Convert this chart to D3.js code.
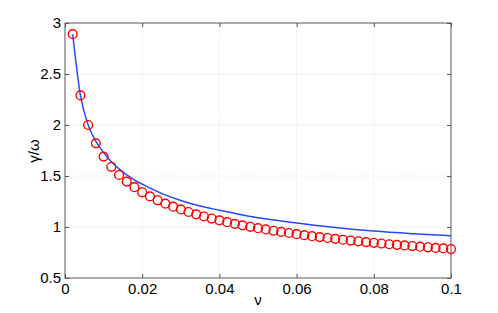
<!DOCTYPE html>
<html>
<head>
<meta charset="utf-8">
<script src="https://cdn.jsdelivr.net/npm/d3@7"></script>
<style>
  body { margin: 0; background: #fff; }
  text { font-family: "Liberation Sans", Arial, sans-serif; }
</style>
</head>
<body>
<div class="chart"></div>
<script>
// gamma/omega against nu
var svgWidth = 498;
var svgHeight = 313;

var margin = { top: 23, right: 47, bottom: 35, left: 65 };

var width = svgWidth - margin.left - margin.right;
var height = svgHeight - margin.top - margin.bottom;

// red circles, nu = 0.002 ... 0.1
var markerNu = [0.002, 0.004, 0.006, 0.008, 0.010, 0.012, 0.014, 0.016, 0.018, 0.020,
  0.022, 0.024, 0.026, 0.028, 0.030, 0.032, 0.034, 0.036, 0.038, 0.040,
  0.042, 0.044, 0.046, 0.048, 0.050, 0.052, 0.054, 0.056, 0.058, 0.060,
  0.062, 0.064, 0.066, 0.068, 0.070, 0.072, 0.074, 0.076, 0.078, 0.080,
  0.082, 0.084, 0.086, 0.088, 0.090, 0.092, 0.094, 0.096, 0.098, 0.100];
var markerVal = [2.89, 2.29, 2.00, 1.82, 1.69, 1.59, 1.51, 1.445, 1.39, 1.34,
  1.30, 1.262, 1.229, 1.199, 1.172, 1.147, 1.124, 1.103, 1.083, 1.065,
  1.047, 1.031, 1.016, 1.002, 0.988, 0.976, 0.963, 0.952, 0.941, 0.930,
  0.920, 0.910, 0.901, 0.892, 0.884, 0.875, 0.867, 0.860, 0.852, 0.845,
  0.838, 0.831, 0.825, 0.819, 0.813, 0.807, 0.801, 0.795, 0.790, 0.784];

// blue curve
var lineNu = [0.002, 0.004, 0.006, 0.008, 0.010, 0.012, 0.014, 0.016, 0.018, 0.020,
  0.025, 0.030, 0.035, 0.040, 0.045, 0.050, 0.060, 0.070, 0.080, 0.090, 0.100];
var lineVal = [2.89, 2.29, 2.00, 1.84, 1.73, 1.64, 1.57, 1.51, 1.46, 1.42,
  1.33, 1.26, 1.205, 1.165, 1.125, 1.09, 1.04, 0.995, 0.96, 0.935, 0.915];

var xTicks = [0, 0.02, 0.04, 0.06, 0.08, 0.1];
var yTicks = [0.5, 1, 1.5, 2, 2.5, 3];

var svg = d3.select(".chart")
  .append("svg")
  .attr("width", svgWidth)
  .attr("height", svgHeight);

var chartGroup = svg.append("g")
  .attr("transform", `translate(${margin.left}, ${margin.top})`);

var x = d3.scaleLinear().domain([0, 0.1]).range([0, width]);
var y = d3.scaleLinear().domain([0.5, 3]).range([height, 0]);

// dotted grid
chartGroup.append("g")
  .selectAll("line")
  .data(xTicks.slice(1, -1))
  .enter()
  .append("line")
  .attr("x1", d => x(d)).attr("x2", d => x(d))
  .attr("y1", 0).attr("y2", height)
  .attr("stroke", "#dadada")
  .attr("stroke-width", 0.8)
  .attr("stroke-dasharray", "1,1.5");

chartGroup.append("g")
  .selectAll("line")
  .data(yTicks.slice(1, -1))
  .enter()
  .append("line")
  .attr("y1", d => y(d)).attr("y2", d => y(d))
  .attr("x1", 0).attr("x2", width)
  .attr("stroke", "#dadada")
  .attr("stroke-width", 0.8)
  .attr("stroke-dasharray", "1,1.5");

// axes, ticks pointing inward on all four sides
var fmt = d3.format("");
function styleAxis(g) {
  g.select(".domain").remove();
  g.selectAll(".tick line").attr("stroke", "#555");
  g.selectAll(".tick text")
    .attr("fill", "#000")
    .style("font-size", "15px")
    .style("font-family", "'Liberation Sans', Arial, sans-serif");
}

chartGroup.append("g")
  .attr("transform", `translate(0, ${height})`)
  .call(d3.axisBottom(x).tickValues(xTicks).tickFormat(fmt).tickSizeInner(-4).tickSizeOuter(0).tickPadding(5))
  .call(styleAxis);

chartGroup.append("g")
  .call(d3.axisTop(x).tickValues(xTicks).tickFormat("").tickSizeInner(-4).tickSizeOuter(0))
  .call(styleAxis);

chartGroup.append("g")
  .call(d3.axisLeft(y).tickValues(yTicks).tickFormat(fmt).tickSizeInner(-4).tickSizeOuter(0).tickPadding(4))
  .call(styleAxis);

chartGroup.append("g")
  .attr("transform", `translate(${width}, 0)`)
  .call(d3.axisRight(y).tickValues(yTicks).tickFormat("").tickSizeInner(-4).tickSizeOuter(0))
  .call(styleAxis);

// box
chartGroup.append("rect")
  .attr("x", 0).attr("y", 0)
  .attr("width", width).attr("height", height)
  .attr("fill", "none")
  .attr("stroke", "#555")
  .attr("stroke-width", 1);

// curve
var lineData = lineNu.map((v, i) => [v, lineVal[i]]);
chartGroup.append("path")
  .datum(lineData)
  .attr("fill", "none")
  .attr("stroke", "#2648ff")
  .attr("stroke-width", 1.5)
  .attr("d", d3.line().x(d => x(d[0])).y(d => y(d[1])).curve(d3.curveMonotoneX));

// markers
chartGroup.selectAll("circle")
  .data(markerNu)
  .enter()
  .append("circle")
  .attr("cx", d => x(d))
  .attr("cy", (d, i) => y(markerVal[i]))
  .attr("r", 4.4)
  .attr("fill", "none")
  .attr("stroke", "#ff0000")
  .attr("stroke-width", 1.4);

// labels
svg.append("text")
  .attr("x", margin.left + width / 2)
  .attr("y", 305)
  .attr("text-anchor", "middle")
  .style("font-size", "15px")
  .text("ν");

svg.append("text")
  .attr("transform", "translate(39, 151) rotate(-90)")
  .attr("text-anchor", "middle")
  .style("font-size", "15px")
  .text("γ/ω");
</script>
</body>
</html>
